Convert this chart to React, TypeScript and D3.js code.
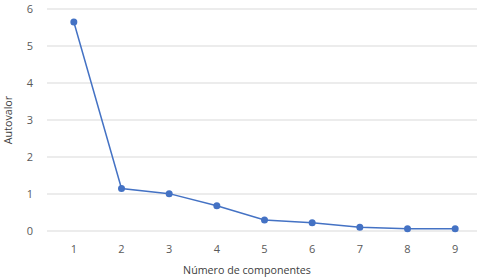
import React from "react";
import * as d3 from "d3";

const categories = ["1", "2", "3", "4", "5", "6", "7", "8", "9"];
const values = [5.65, 1.15, 1.01, 0.68, 0.3, 0.22, 0.1, 0.06, 0.06];
const yTicks = [0, 1, 2, 3, 4, 5, 6];

const W = 480;
const H = 278;
const left = 50;
const right = 479;
const top = 9;
const bottom = 231;

export default function App() {
  const x = d3.scaleBand<string>().domain(categories).range([left, right]);
  const y = d3.scaleLinear().domain([0, 6]).range([bottom, top]);
  const cx = (c: string) => (x(c) ?? 0) + x.bandwidth() / 2;
  const line = d3
    .line<number>()
    .x((_, i) => cx(categories[i]))
    .y((d) => y(d));
  const font = "'Open Sans', 'Noto Sans', sans-serif";
  return (
    <svg
      width={W}
      height={H}
      style={{ position: "absolute", left: 0, top: 0, background: "#fff" }}
      fontFamily={font}
    >
      {yTicks.map((t) => (
        <g key={t}>
          <line x1={47} x2={477} y1={y(t)} y2={y(t)} stroke="#d9d9d9" strokeWidth={1} />
          <text x={33} y={y(t)} dy="0.35em" textAnchor="end" fontSize={11} fill="#595959">
            {t}
          </text>
        </g>
      ))}
      {categories.map((c) => (
        <text key={c} x={cx(c)} y={249} dy="0.35em" textAnchor="middle" fontSize={11} fill="#595959">
          {c}
        </text>
      ))}
      <path d={line(values) ?? ""} fill="none" stroke="#4472C4" strokeWidth={1.5} />
      {values.map((v, i) => (
        <circle key={i} cx={cx(categories[i])} cy={y(v)} r={3.5} fill="#4472C4" />
      ))}
      <text x={247} y={270} dy="0.35em" textAnchor="middle" fontSize={10.7} fill="#404040">
        Número de componentes
      </text>
      <text
        transform={`translate(8,120) rotate(-90)`}
        dy="0.35em"
        textAnchor="middle"
        fontSize={10.7}
        fill="#404040"
      >
        Autovalor
      </text>
    </svg>
  );
}
